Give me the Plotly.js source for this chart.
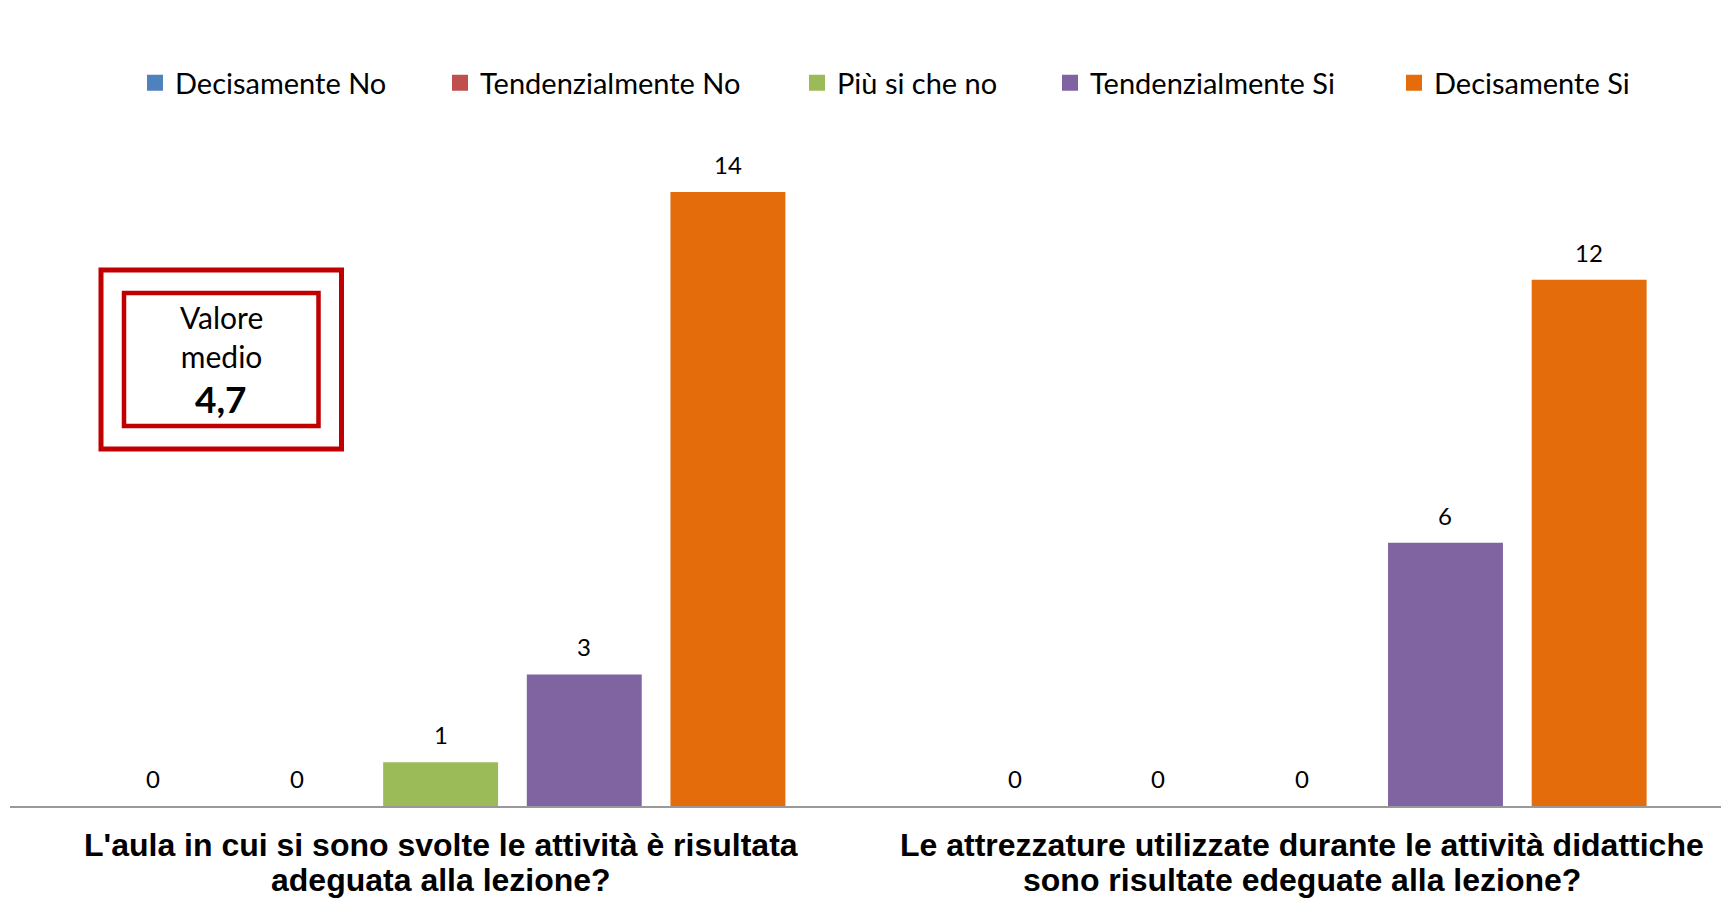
<!DOCTYPE html>
<html>
<head>
<meta charset="utf-8">
<script src="https://cdn.plot.ly/plotly-3.0.1.min.js"></script>
<style>
  html, body { margin: 0; padding: 0; background: #fff; }
  #chart { width: 1721px; height: 899px; }
</style>
</head>
<body>
<div id="chart"></div>
<script>
// domande (categorie sull'asse x)
var questions = [
  "L'aula in cui si sono svolte le attività è risultata<br>adeguata alla lezione?",
  "Le attrezzature utilizzate durante le attività didattiche<br>sono risultate edeguate alla lezione?"
];

// serie di risposte
var seriesNames = ['Decisamente No', 'Tendenzialmente No', 'Più si che no', 'Tendenzialmente Si', 'Decisamente Si'];
var seriesColors = ['#4F81BD', '#C0504D', '#9BBB59', '#8064A2', '#E46C0A'];

var decisamenteNo = [0, 0];
var tendenzialmenteNo = [0, 0];
var piuSiCheNo = [1, 0];
var tendenzialmenteSi = [3, 6];
var decisamenteSi = [14, 12];

var seriesValues = [decisamenteNo, tendenzialmenteNo, piuSiCheNo, tendenzialmenteSi, decisamenteSi];

var valoreMedio = '4,7';

var barGap = 0.166;
var barGroupGap = 0.2;

// posizione (px) di ogni voce di legenda
var legendLeft = [135, 440, 797, 1050, 1394];

function px(x) { return (x - 10) / 1711; }
function py(y) { return (806 - y) / 686; }

function legendKey(i) { return i === 0 ? 'legend' : 'legend' + (i + 1); }

var data = seriesNames.map(function (name, i) {
  return {
    type: 'bar',
    name: name,
    x: questions,
    y: seriesValues[i],
    marker: { color: seriesColors[i] },
    showlegend: false,
    hoverinfo: 'x+y+name'
  };
});

// voci di legenda con quadratino
seriesNames.forEach(function (name, i) {
  data.push({
    type: 'scatter',
    mode: 'markers',
    name: name,
    x: [null],
    y: [null],
    marker: { symbol: 'square', size: 16, color: seriesColors[i] },
    legend: legendKey(i),
    hoverinfo: 'skip'
  });
});

// etichette dei valori sopra le barre
var slot = (1 - barGap) / seriesNames.length;
var annotations = [];
seriesValues.forEach(function (vals, i) {
  vals.forEach(function (v, g) {
    annotations.push({
      xref: 'x', yref: 'y',
      x: g + (i - (seriesNames.length - 1) / 2) * slot,
      y: v,
      yanchor: 'bottom',
      yshift: 11,
      showarrow: false,
      text: String(v),
      font: { family: 'Lato, sans-serif', size: 24, color: '#000' }
    });
  });
});

// etichette delle categorie (due righe)
var lineCenters = [845, 880];
questions.forEach(function (q) {
  q.split('<br>').forEach(function (line, k) {
    annotations.push({
      xref: 'x', yref: 'paper',
      x: q, y: py(lineCenters[k]),
      xanchor: 'center', yanchor: 'middle',
      showarrow: false,
      text: '<b>' + line + '</b>',
      font: { family: '"Liberation Sans Narrow", "Liberation Sans", Arial, sans-serif', size: 32, color: '#000' }
    });
  });
});

// riquadro valore medio
annotations.push({
  xref: 'paper', yref: 'paper',
  x: px(221), y: py(336), xanchor: 'center', yanchor: 'middle',
  showarrow: false,
  text: 'Valore<br>medio',
  font: { family: 'Lato, sans-serif', size: 30, color: '#000' }
});
annotations.push({
  xref: 'paper', yref: 'paper',
  x: px(221), y: py(398), xanchor: 'center', yanchor: 'middle',
  showarrow: false,
  text: '<b>' + valoreMedio + '</b>',
  font: { family: 'Lato, sans-serif', size: 37, color: '#000' }
});

var shapes = [
  { type: 'rect', xref: 'paper', yref: 'paper', x0: px(101), x1: px(341.5), y0: py(270), y1: py(449),
    line: { color: '#C00000', width: 5 } },
  { type: 'rect', xref: 'paper', yref: 'paper', x0: px(124), x1: px(318.5), y0: py(293), y1: py(426),
    line: { color: '#C00000', width: 4.5 } }
];

var layout = {
  width: 1721,
  height: 899,
  margin: { l: 10, r: 0, t: 120, b: 93 },
  paper_bgcolor: '#fff',
  plot_bgcolor: '#fff',
  barmode: 'group',
  bargap: barGap,
  bargroupgap: barGroupGap,
  showlegend: true,
  xaxis: {
    type: 'category',
    range: [-0.5, 1.4867],
    showline: true,
    linecolor: '#999',
    linewidth: 2,
    ticks: '',
    showgrid: false,
    zeroline: false,
    showticklabels: false,
    fixedrange: true
  },
  yaxis: {
    range: [0, 15.64],
    showgrid: false,
    zeroline: false,
    showticklabels: false,
    showline: false,
    fixedrange: true
  },
  annotations: annotations,
  shapes: shapes
};

seriesNames.forEach(function (name, i) {
  layout[legendKey(i)] = {
    orientation: 'h',
    x: px(legendLeft[i]), y: py(83), xanchor: 'left', yanchor: 'middle',
    font: { family: 'Lato, sans-serif', size: 29, color: '#000' },
    bgcolor: 'rgba(0,0,0,0)',
    itemclick: false
  };
});

Plotly.newPlot('chart', data, layout, { displayModeBar: false });
</script>
</body>
</html>
